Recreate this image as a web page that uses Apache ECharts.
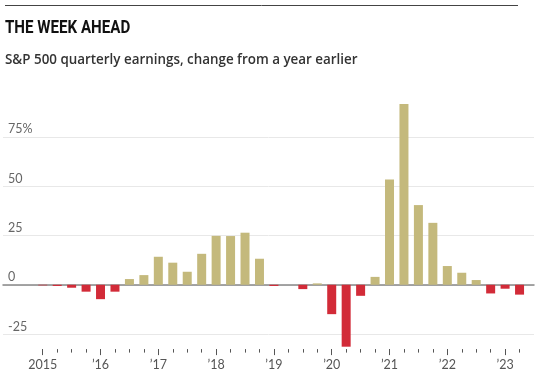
<!DOCTYPE html>
<html>
<head>
<meta charset="utf-8">
<script src="https://cdn.jsdelivr.net/npm/echarts@6/dist/echarts.min.js"></script>
<style>
  html, body { margin: 0; padding: 0; background: #fff; }
  #chart { width: 537px; height: 376px; }
</style>
</head>
<body>
<div id="chart"></div>
<script>
// Quarters from 2015 Q1 to 2023 Q2, index 0 = 2015 Q1
const quarters = [
  '2015 Q1', '2015 Q2', '2015 Q3', '2015 Q4',
  '2016 Q1', '2016 Q2', '2016 Q3', '2016 Q4',
  '2017 Q1', '2017 Q2', '2017 Q3', '2017 Q4',
  '2018 Q1', '2018 Q2', '2018 Q3', '2018 Q4',
  '2019 Q1', '2019 Q2', '2019 Q3', '2019 Q4',
  '2020 Q1', '2020 Q2', '2020 Q3', '2020 Q4',
  '2021 Q1', '2021 Q2', '2021 Q3', '2021 Q4',
  '2022 Q1', '2022 Q2', '2022 Q3', '2022 Q4',
  '2023 Q1', '2023 Q2',
];
// Earnings change from a year earlier, percent
const earningsChange = [
  -0.3, -0.6, -1.5, -3.5,
  -7.3, -3.5, 2.9, 4.9,
  14.2, 11.2, 6.6, 15.7,
  24.8, 24.7, 26.4, 13.2,
  -0.6, 0, -2.2, 0.7,
  -14.9, -31.4, -5.6, 4.0,
  53.4, 91.6, 40.4, 31.4,
  9.5, 6.1, 2.4, -4.4,
  -2.0, -5.0,
];
const yearTicks = [0, 4, 8, 12, 16, 20, 24, 28, 32];
const yearLabels = ['2015', '\u201916', '\u201917', '\u201918', '\u201919', '\u201920', '\u201921', '\u201922', '\u201923'];
const yTicks = [-25, 0, 25, 50, 75];

const GOLD = '#c4b97c';
const RED = '#d22b38';

const chart = echarts.init(document.getElementById('chart'));

const xRange = { min: -2.75, max: 34 };
// y runs -35..95 with a 5 step; only every 5th split line is shown
const tickOffset = -4.7;

const option = {
  animation: false,
  graphic: [
    {
      type: 'line',
      shape: { x1: 5, y1: 5.5, x2: 518, y2: 5.5 },
      style: { stroke: '#444', lineWidth: 1 },
    },
    {
      type: 'text',
      x: 5,
      y: 19,
      scaleX: 0.84,
      style: {
        text: 'THE WEEK AHEAD',
        font: 'bold 18px Roboto, sans-serif',
        fill: '#111',
        verticalAlign: 'top',
      },
    },
    {
      type: 'text',
      x: 5,
      y: 53.5,
      style: {
        text: 'S&P 500 quarterly earnings, change from a year earlier',
        font: '600 13.4px "Open Sans", sans-serif',
        fill: '#333',
        verticalAlign: 'top',
      },
    },
  ],
  grid: { left: 3, right: 3, top: 97.4, height: 256.4, containLabel: false },
  xAxis: [
    {
      // zero line
      type: 'value',
      ...xRange,
      axisLine: { onZero: true, lineStyle: { color: '#888', width: 1.5 } },
      axisTick: { show: false },
      axisLabel: { show: false },
      splitLine: { show: false },
    },
    {
      // quarter ticks
      type: 'value',
      ...xRange,
      position: 'bottom',
      offset: tickOffset,
      axisLine: { show: false, onZero: false },
      axisTick: { show: true, length: 3.5, lineStyle: { color: '#555' }, customValues: quarters.map((q, i) => i) },
      axisLabel: { show: false },
      splitLine: { show: false },
    },
    {
      // year ticks and labels
      type: 'value',
      ...xRange,
      position: 'bottom',
      offset: tickOffset,
      axisLine: { show: false, onZero: false },
      axisTick: { show: true, length: 6, lineStyle: { color: '#555' }, customValues: yearTicks },
      axisLabel: {
        show: true,
        customValues: yearTicks,
        margin: 9,
        fontFamily: 'Lato, sans-serif',
        fontSize: 12.5,
        color: '#555',
        formatter: v => yearLabels[yearTicks.indexOf(v)] || '',
      },
      splitLine: { show: false },
    },
  ],
  yAxis: {
    type: 'value',
    min: -35,
    max: 95,
    interval: 5,
    axisLine: { show: false },
    axisTick: { show: false },
    axisLabel: {
      inside: true,
      margin: 5,
      verticalAlign: 'bottom',
      padding: [0, 0, 1, 0],
      fontFamily: 'Lato, sans-serif',
      fontSize: 12.5,
      color: '#666',
      formatter: v => (yTicks.indexOf(v) < 0 ? '' : v === 75 ? '75%' : String(v)),
    },
    splitLine: {
      show: true,
      showMinLine: false,
      showMaxLine: false,
      // lines counted from -30, so -25, 0, 25 ... sit at index 1 of every 5
      lineStyle: { color: ['transparent', '#e8e8e8', 'transparent', 'transparent', 'transparent'], width: 1 },
    },
  },
  series: [
    {
      type: 'bar',
      name: 'Earnings change',
      xAxisIndex: 0,
      barWidth: 9,
      data: earningsChange.map((v, i) => ({
        value: [i, v],
        name: quarters[i],
        itemStyle: { color: v >= 0 ? GOLD : RED },
      })),
      z: 1,
    },
  ],
};

chart.setOption(option);
</script>
</body>
</html>
